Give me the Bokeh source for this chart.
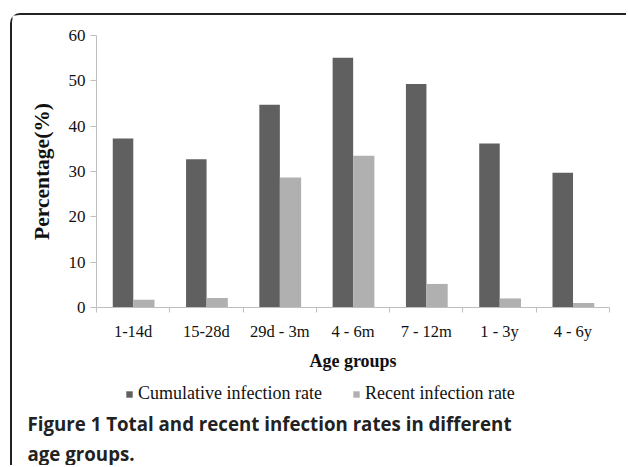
from bokeh.plotting import figure
from bokeh.models import (ColumnDataSource, FixedTicker, Legend, LegendItem, Label, Range1d)
from bokeh.transform import dodge
from bokeh.embed import file_html
from bokeh.resources import INLINE

categories = ["1-14d", "15-28d", "29d - 3m", "4 - 6m", "7 - 12m", "1 - 3y", "4 - 6y"]
cumulative = [37.3, 32.7, 44.7, 55.1, 49.3, 36.2, 29.7]
recent = [1.7, 2.1, 28.7, 33.5, 5.2, 2.0, 1.0]
y_ticks = [0, 10, 20, 30, 40, 50, 60]

xs = [i + 0.5 for i in range(len(categories))]
src = ColumnDataSource(dict(x=xs, cum=cumulative, rec=recent, cat=categories))

SERIF = "Liberation Serif"
DARK = "#606060"
LIGHT = "#b0b0b0"
AX = "#bfbfbf"
TXT = "#111111"

# canvas sits at page (12, 15) inside a CSS border; axes are pinned with fixed_location
p = figure(width=616, height=452, output_backend="svg", toolbar_location=None,
           x_range=Range1d(-1.146, 7.259), y_range=Range1d(-35.29, 64.41),
           min_border_left=0, min_border_right=0, min_border_top=0, min_border_bottom=0,
           margin=(13, 0, 0, 10),
           styles={"border-top": "2px solid #222222", "border-left": "2px solid #222222",
                   "border-top-left-radius": "10px"})
p.outline_line_color = None
p.grid.visible = False
p.background_fill_color = "white"
p.border_fill_color = "white"

r1 = p.vbar(x=dodge("x", -0.138, range=p.x_range), top="cum", width=0.28, source=src,
            fill_color=DARK, line_color=None)
r2 = p.vbar(x=dodge("x", 0.147, range=p.x_range), top="rec", width=0.29, source=src,
            fill_color=LIGHT, line_color=None)

xa = p.xaxis[0]
xa.fixed_location = 0
xa.bounds = (0, len(categories))
xa.ticker = FixedTicker(ticks=xs, minor_ticks=list(range(len(categories) + 1)))
xa.major_label_overrides = {x: c for x, c in zip(xs, categories)}
xa.major_tick_out = 0
xa.major_tick_in = 0
xa.minor_tick_out = 5
xa.minor_tick_in = 0
xa.minor_tick_line_color = AX
xa.axis_line_color = AX
xa.major_label_text_font = SERIF
xa.major_label_text_font_size = "16.5px"
xa.major_label_text_color = TXT
xa.major_label_standoff = 9
xa.axis_label = "Age groups"
xa.axis_label_text_font = SERIF
xa.axis_label_text_font_style = "bold"
xa.axis_label_text_font_size = "18px"
xa.axis_label_text_color = TXT
xa.axis_label_standoff = 7

ya = p.yaxis[0]
ya.fixed_location = 0
ya.bounds = (0, 60)
ya.ticker = FixedTicker(ticks=y_ticks, minor_ticks=[])
ya.major_tick_out = 6
ya.major_tick_in = 0
ya.major_tick_line_color = AX
ya.axis_line_color = AX
ya.major_label_text_font = SERIF
ya.major_label_text_font_size = "17px"
ya.major_label_text_color = TXT
ya.major_label_standoff = 5
ya.axis_label = "Percentage(%)"
ya.axis_label_text_font = SERIF
ya.axis_label_text_font_style = "bold"
ya.axis_label_text_font_size = "21.5px"
ya.axis_label_text_color = TXT
ya.axis_label_standoff = 12

legend = Legend(items=[LegendItem(label="Cumulative infection rate", renderers=[r1]),
                       LegendItem(label="Recent infection rate", renderers=[r2])],
                orientation="horizontal", location=(113, 63),
                glyph_width=8, glyph_height=8, label_standoff=5, spacing=30,
                padding=0, margin=0, border_line_color=None, background_fill_alpha=0,
                label_text_font=SERIF, label_text_font_size="18px",
                label_text_color=TXT, label_height=16)
p.add_layout(legend, "center")

p.add_layout(Label(x=15, y=32, x_units="screen", y_units="screen",
                   text="Figure 1 Total and recent infection rates in different",
                   text_font="Open Sans", text_font_style="bold", text_font_size="18.7px",
                   text_color="#222222"))
p.add_layout(Label(x=15, y=2, x_units="screen", y_units="screen",
                   text="age groups.",
                   text_font="Open Sans", text_font_style="bold", text_font_size="18.7px",
                   text_color="#222222"))

open("out.html", "w").write(file_html(p, INLINE))
